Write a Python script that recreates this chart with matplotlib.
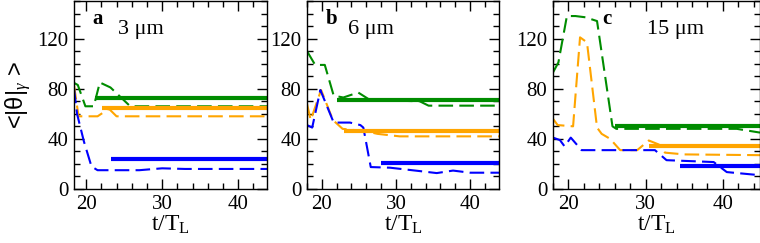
import matplotlib
matplotlib.use('Agg')
import matplotlib.pyplot as plt
from matplotlib.ticker import MultipleLocator

plt.rcParams['font.family'] = ['Liberation Serif', 'DejaVu Serif']
plt.rcParams['mathtext.fontset'] = 'custom'
plt.rcParams['mathtext.rm'] = 'Liberation Serif'
plt.rcParams['mathtext.it'] = 'Liberation Serif:italic'

# panel a (3 um)
ta_green = [18.3, 18.9, 19.9, 21.0, 21.8, 23.2, 25.8, 44]
va_green = [85, 83, 66, 66, 85, 81, 66, 66]
ta_orange = [18.4, 19.0, 21.5, 23.0, 24.0, 44]
va_orange = [83, 58, 58, 64, 58, 58]
ta_blue = [18.4, 18.8, 19.7, 20.7, 21.5, 27, 30, 33, 44]
va_blue = [80, 60, 38, 18, 15, 15, 16.5, 16, 16]
sa_t = {'green': [21.2, 45], 'orange': [22.1, 45], 'blue': [23.3, 45]}
sa_v = {'green': 72.5, 'orange': 64.5, 'blue': 24}

# panel b (6 um)
tb_green = [18.0, 19.1, 20.4, 21.6, 22.9, 24.9, 26.5, 33.2, 34.4, 44]
vb_green = [110, 99, 99, 74.5, 73, 77, 71, 70, 66.5, 66.5]
tb_orange = [18.0, 18.5, 19.9, 21.5, 22.8, 26.0, 27.5, 30.5, 44]
vb_orange = [68, 55, 79, 55, 48, 46, 44, 42, 42]
tb_blue = [18.0, 18.7, 19.8, 21.6, 23.8, 25.2, 25.6, 26.6, 29.2, 33.2, 35.5, 37.7, 40.0, 44]
vb_blue = [51, 49, 79, 53, 53, 51, 49, 17.5, 17, 14.3, 12.7, 14.7, 13, 13]
sb_t = {'green': [22.0, 45], 'orange': [23.0, 45], 'blue': [28.0, 45]}
sb_v = {'green': 71, 'orange': 46, 'blue': 21}

# panel c (15 um)
tc_green = [18.0, 18.7, 19.8, 20.9, 22.2, 23.7, 25.7, 26.2, 41.8, 44.8]
vc_green = [93, 101, 138, 138, 137, 134, 50, 48, 48, 45]
tc_orange = [18.0, 18.6, 20.6, 21.5, 22.4, 23.7, 24.3, 25.4, 26.7, 28.9, 30.4, 31.7, 32.5, 35.0, 44.8]
vc_orange = [56, 51, 50, 121, 117, 49, 44, 40, 31, 31, 38.7, 35.5, 29, 27.6, 27]
tc_blue = [18.0, 18.9, 19.5, 20.3, 21.7, 31.2, 32.7, 38.8, 40.5, 44.8]
vc_blue = [41, 39, 34, 41, 31, 31, 23, 21.5, 13.5, 11]
sc_t = {'green': [26.0, 45], 'orange': [30.4, 45], 'blue': [34.4, 45]}
sc_v = {'green': 50, 'orange': 34.3, 'blue': 18.5}

colores = {'green': '#008c00', 'orange': '#ffa500', 'blue': '#0000ff'}

paneles = [
    dict(pos=[74/760, 54/243, 193/760, 188/243], xlim=(18.4, 43.8), letra='a', lx=0.093,
         texto='3 \u03bcm', tx=0.228,
         dash={'green': (ta_green, va_green), 'orange': (ta_orange, va_orange), 'blue': (ta_blue, va_blue)},
         st=sa_t, sv=sa_v),
    dict(pos=[307/760, 54/243, 192/760, 188/243], xlim=(18.0, 43.9), letra='b', lx=0.099,
         texto='6 \u03bcm', tx=0.214,
         dash={'green': (tb_green, vb_green), 'orange': (tb_orange, vb_orange), 'blue': (tb_blue, vb_blue)},
         st=sb_t, sv=sb_v),
    dict(pos=[553/760, 54/243, 207/760, 188/243], xlim=(18.0, 44.8), letra='c', lx=0.24,
         texto='15 \u03bcm', tx=0.453,
         dash={'green': (tc_green, vc_green), 'orange': (tc_orange, vc_orange), 'blue': (tc_blue, vc_blue)},
         st=sc_t, sv=sc_v),
]

fig = plt.figure(figsize=(7.6, 2.43), dpi=100)

for i, p in enumerate(paneles):
    ax = fig.add_axes(p['pos'])
    for c in ['green', 'orange', 'blue']:
        t, v = p['dash'][c]
        ax.plot(t, v, color=colores[c], lw=1.5, dashes=(7, 3))
    for c in ['green', 'orange', 'blue']:
        ax.plot(p['st'][c], [p['sv'][c]] * 2, color=colores[c], lw=3.0, solid_capstyle='butt')

    ax.set_xlim(*p['xlim'])
    ax.set_ylim(0, 150)
    ax.xaxis.set_major_locator(MultipleLocator(10))
    ax.xaxis.set_minor_locator(MultipleLocator(2))
    ax.yaxis.set_major_locator(MultipleLocator(40))
    ax.yaxis.set_minor_locator(MultipleLocator(10))
    ax.tick_params(which='both', direction='in', top=True, right=True, labelsize=15, pad=4)
    ax.tick_params(which='major', length=7, width=1)
    ax.tick_params(which='minor', length=4, width=1)
    for s in ax.spines.values():
        s.set_linewidth(1)

    ax.text(p['lx'], 0.96, p['letra'], transform=ax.transAxes, fontsize=15,
            fontweight='bold', va='top', ha='left')
    ax.text(p['tx'], 0.847, p['texto'], transform=ax.transAxes, fontsize=16,
            va='center', ha='left')
    ax.set_xlabel('t/T$_\\mathrm{L}$', fontsize=17, labelpad=0)
    if i == 0:
        ax.set_ylabel('<|\u03b8|$_{\\gamma}$ >', fontsize=17, family=['Liberation Sans', 'DejaVu Sans'])
        ax.yaxis.set_label_coords(-0.215, 0.5)

fig.savefig('out.png', dpi=100)
plt.close(fig)
